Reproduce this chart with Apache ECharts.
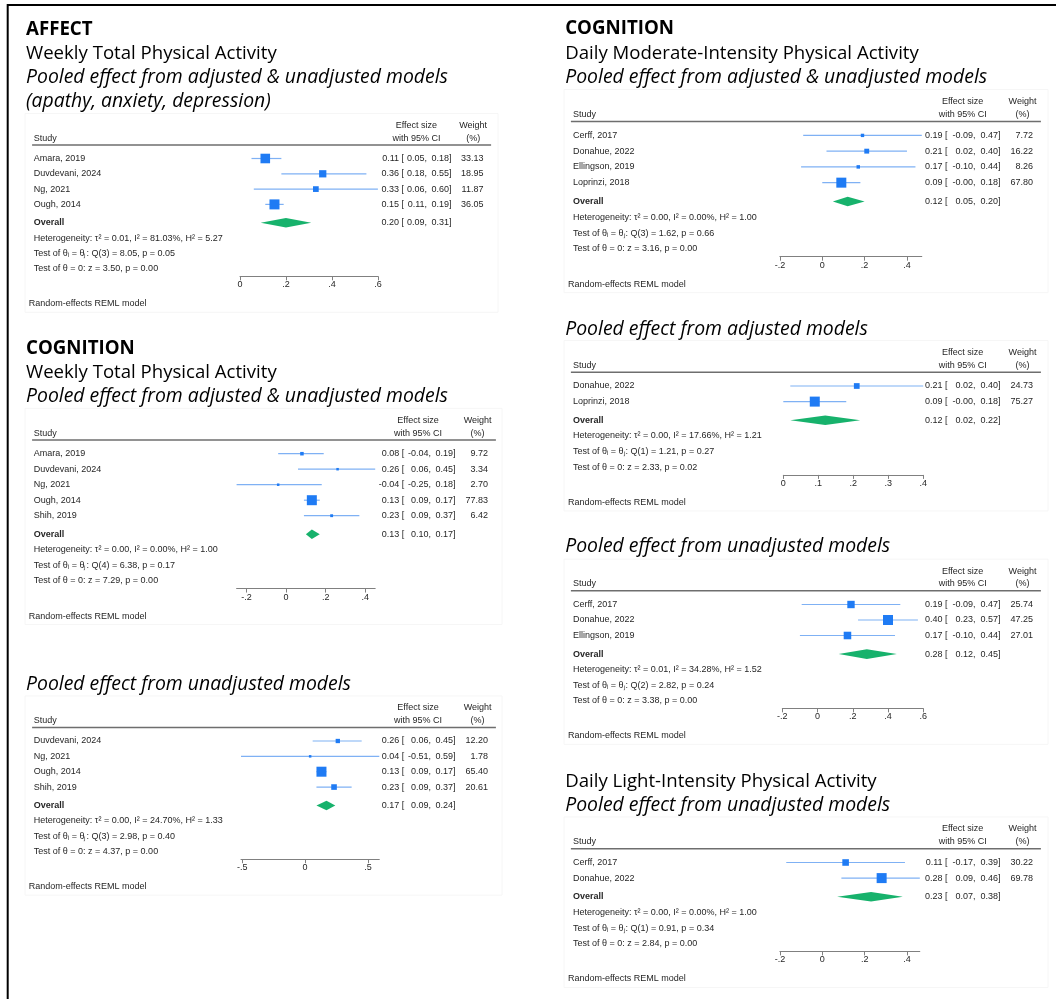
<!DOCTYPE html>
<html>
<head>
<meta charset="utf-8">
<title>Physical activity meta-analyses</title>
<script src="https://cdn.jsdelivr.net/npm/echarts@6/dist/echarts.min.js"></script>
<style>
  html, body { margin: 0; padding: 0; background: #fff; }
  #chart { width: 1056px; height: 999px; }
</style>
</head>
<body>
<div id="chart"></div>
<script>
// ---------------- data ----------------
// AFFECT - weekly total physical activity (adjusted & unadjusted)
const affectWeeklyStudies = ['Amara, 2019', 'Duvdevani, 2024', 'Ng, 2021', 'Ough, 2014'];
const affectWeeklyEst     = [0.11, 0.36, 0.33, 0.15];
const affectWeeklyLow     = [0.05, 0.18, 0.06, 0.11];
const affectWeeklyHigh    = [0.18, 0.55, 0.60, 0.19];
const affectWeeklyWeight  = [33.13, 18.95, 11.87, 36.05];
const affectWeeklyOverall = [0.20, 0.09, 0.31];               // estimate, lower, upper
const affectWeeklyStats   = ['τ² = 0.01, I² = 81.03%, H² = 5.27', 'Q(3) = 8.05, p = 0.05', 'z = 3.50, p = 0.00'];
const affectWeeklyTicks   = [0, 0.2, 0.4, 0.6];

// COGNITION - weekly total physical activity (adjusted & unadjusted)
const cogWeeklyAllStudies = ['Amara, 2019', 'Duvdevani, 2024', 'Ng, 2021', 'Ough, 2014', 'Shih, 2019'];
const cogWeeklyAllEst     = [0.08, 0.26, -0.04, 0.13, 0.23];
const cogWeeklyAllLow     = [-0.04, 0.06, -0.25, 0.09, 0.09];
const cogWeeklyAllHigh    = [0.19, 0.45, 0.18, 0.17, 0.37];
const cogWeeklyAllWeight  = [9.72, 3.34, 2.70, 77.83, 6.42];
const cogWeeklyAllOverall = [0.13, 0.10, 0.17];
const cogWeeklyAllStats   = ['τ² = 0.00, I² = 0.00%, H² = 1.00', 'Q(4) = 6.38, p = 0.17', 'z = 7.29, p = 0.00'];
const cogWeeklyAllTicks   = [-0.2, 0, 0.2, 0.4];

// COGNITION - weekly total physical activity (unadjusted)
const cogWeeklyUnadjStudies = ['Duvdevani, 2024', 'Ng, 2021', 'Ough, 2014', 'Shih, 2019'];
const cogWeeklyUnadjEst     = [0.26, 0.04, 0.13, 0.23];
const cogWeeklyUnadjLow     = [0.06, -0.51, 0.09, 0.09];
const cogWeeklyUnadjHigh    = [0.45, 0.59, 0.17, 0.37];
const cogWeeklyUnadjWeight  = [12.20, 1.78, 65.40, 20.61];
const cogWeeklyUnadjOverall = [0.17, 0.09, 0.24];
const cogWeeklyUnadjStats   = ['τ² = 0.00, I² = 24.70%, H² = 1.33', 'Q(3) = 2.98, p = 0.40', 'z = 4.37, p = 0.00'];
const cogWeeklyUnadjTicks   = [-0.5, 0, 0.5];

// COGNITION - daily moderate-intensity physical activity (adjusted & unadjusted)
const cogModAllStudies = ['Cerff, 2017', 'Donahue, 2022', 'Ellingson, 2019', 'Loprinzi, 2018'];
const cogModAllEst     = [0.19, 0.21, 0.17, 0.09];
const cogModAllLow     = [-0.09, 0.02, -0.10, -0.00];
const cogModAllHigh    = [0.47, 0.40, 0.44, 0.18];
const cogModAllWeight  = [7.72, 16.22, 8.26, 67.80];
const cogModAllOverall = [0.12, 0.05, 0.20];
const cogModAllStats   = ['τ² = 0.00, I² = 0.00%, H² = 1.00', 'Q(3) = 1.62, p = 0.66', 'z = 3.16, p = 0.00'];
const cogModAllTicks   = [-0.2, 0, 0.2, 0.4];

// COGNITION - daily moderate-intensity physical activity (adjusted)
const cogModAdjStudies = ['Donahue, 2022', 'Loprinzi, 2018'];
const cogModAdjEst     = [0.21, 0.09];
const cogModAdjLow     = [0.02, -0.00];
const cogModAdjHigh    = [0.40, 0.18];
const cogModAdjWeight  = [24.73, 75.27];
const cogModAdjOverall = [0.12, 0.02, 0.22];
const cogModAdjStats   = ['τ² = 0.00, I² = 17.66%, H² = 1.21', 'Q(1) = 1.21, p = 0.27', 'z = 2.33, p = 0.02'];
const cogModAdjTicks   = [0, 0.1, 0.2, 0.3, 0.4];

// COGNITION - daily moderate-intensity physical activity (unadjusted)
const cogModUnadjStudies = ['Cerff, 2017', 'Donahue, 2022', 'Ellingson, 2019'];
const cogModUnadjEst     = [0.19, 0.40, 0.17];
const cogModUnadjLow     = [-0.09, 0.23, -0.10];
const cogModUnadjHigh    = [0.47, 0.57, 0.44];
const cogModUnadjWeight  = [25.74, 47.25, 27.01];
const cogModUnadjOverall = [0.28, 0.12, 0.45];
const cogModUnadjStats   = ['τ² = 0.01, I² = 34.28%, H² = 1.52', 'Q(2) = 2.82, p = 0.24', 'z = 3.38, p = 0.00'];
const cogModUnadjTicks   = [-0.2, 0, 0.2, 0.4, 0.6];

// COGNITION - daily light-intensity physical activity (unadjusted)
const cogLightStudies = ['Cerff, 2017', 'Donahue, 2022'];
const cogLightEst     = [0.11, 0.28];
const cogLightLow     = [-0.17, 0.09];
const cogLightHigh    = [0.39, 0.46];
const cogLightWeight  = [30.22, 69.78];
const cogLightOverall = [0.23, 0.07, 0.38];
const cogLightStats   = ['τ² = 0.00, I² = 0.00%, H² = 1.00', 'Q(1) = 0.91, p = 0.34', 'z = 2.84, p = 0.00'];
const cogLightTicks   = [-0.2, 0, 0.2, 0.4];

// ---------------- styling ----------------
const TITLE_FONT = '"Open Sans", "Noto Sans", sans-serif';
const TITLE_SIZE = { b: 18.7, r: 18.6, i: 19.4 };   // bold heading, plain subtitle, italic model line
const STATA_FONT = '"Liberation Sans", Arial, Helvetica, sans-serif';
const TXT = '#262626';
const CI_COLOR = '#7fb1f4';
const MARK_COLOR = '#1f7bf4';
const DIAMOND_COLOR = '#17b26c';
const AXIS_COLOR = '#808080';

// column anchors for the left and right halves of the page
const leftCols  = { tx: 26, studyX: 33.8, noteX: 28.7, rule: [32.1, 495.9], bg: [25, 502],
                    est: 399.3, br: 401.8, lo: 431, hi: 455.6, w: 488.1, esC: 418, wC: 477.6 };
const leftCols1 = { tx: 26, studyX: 33.8, noteX: 28.7, rule: [32.1, 491.1], bg: [25, 498],
                    est: 399.0, br: 401.6, lo: 427, hi: 451.6, w: 483.4, esC: 416.4, wC: 473.2 };
const rightCols = { tx: 565.2, studyX: 572.9, noteX: 567.9, rule: [570.9, 1040.9], bg: [564, 1048],
                    est: 942.5, br: 945, lo: 975.5, hi: 1000.6, w: 1033, esC: 962.7, wC: 1022.5 };

const panels = [
  { studies: affectWeeklyStudies, est: affectWeeklyEst, lo: affectWeeklyLow, hi: affectWeeklyHigh,
    weight: affectWeeklyWeight, overall: affectWeeklyOverall, stats: affectWeeklyStats, ticks: affectWeeklyTicks,
    titles: [['AFFECT', 29.2, 'b'], ['Weekly Total Physical Activity', 53.3, 'r'],
             ['Pooled effect from adjusted & unadjusted models', 77.7, 'i'], ['(apathy, anxiety, depression)', 101.7, 'i']],
    cols: leftCols1, r0: 158.5, sp: 15.3, gx: [240, 377.9] },
  { studies: cogWeeklyAllStudies, est: cogWeeklyAllEst, lo: cogWeeklyAllLow, hi: cogWeeklyAllHigh,
    weight: cogWeeklyAllWeight, overall: cogWeeklyAllOverall, stats: cogWeeklyAllStats, ticks: cogWeeklyAllTicks,
    titles: [['COGNITION', 348.3, 'b'], ['Weekly Total Physical Activity', 372.3, 'r'],
             ['Pooled effect from adjusted & unadjusted models', 396.7, 'i']],
    cols: leftCols, r0: 453.7, sp: 15.5, gx: [236.6, 375.2] },
  { studies: cogWeeklyUnadjStudies, est: cogWeeklyUnadjEst, lo: cogWeeklyUnadjLow, hi: cogWeeklyUnadjHigh,
    weight: cogWeeklyUnadjWeight, overall: cogWeeklyUnadjOverall, stats: cogWeeklyUnadjStats, ticks: cogWeeklyUnadjTicks,
    titles: [['Pooled effect from unadjusted models', 684.3, 'i']],
    cols: leftCols, r0: 741, sp: 15.35, gx: [241, 379.3] },
  { studies: cogModAllStudies, est: cogModAllEst, lo: cogModAllLow, hi: cogModAllHigh,
    weight: cogModAllWeight, overall: cogModAllOverall, stats: cogModAllStats, ticks: cogModAllTicks,
    titles: [['COGNITION', 29.0, 'b'], ['Daily Moderate-Intensity Physical Activity', 53.3, 'r'],
             ['Pooled effect from adjusted & unadjusted models', 77.7, 'i']],
    cols: rightCols, r0: 135.4, sp: 15.75, gx: [779.9, 921.8] },
  { studies: cogModAdjStudies, est: cogModAdjEst, lo: cogModAdjLow, hi: cogModAdjHigh,
    weight: cogModAdjWeight, overall: cogModAdjOverall, stats: cogModAdjStats, ticks: cogModAdjTicks,
    titles: [['Pooled effect from adjusted models', 329.3, 'i']],
    cols: rightCols, r0: 386, sp: 15.6, gx: [783.3, 923.2] },
  { studies: cogModUnadjStudies, est: cogModUnadjEst, lo: cogModUnadjLow, hi: cogModUnadjHigh,
    weight: cogModUnadjWeight, overall: cogModUnadjOverall, stats: cogModUnadjStats, ticks: cogModUnadjTicks,
    titles: [['Pooled effect from unadjusted models', 546.7, 'i']],
    cols: rightCols, r0: 604.5, sp: 15.5, gx: [782.3, 923.2] },
  { studies: cogLightStudies, est: cogLightEst, lo: cogLightLow, hi: cogLightHigh,
    weight: cogLightWeight, overall: cogLightOverall, stats: cogLightStats, ticks: cogLightTicks,
    titles: [['Daily Light-Intensity Physical Activity', 781.7, 'r'], ['Pooled effect from unadjusted models', 805, 'i']],
    cols: rightCols, r0: 862.5, sp: 15.6, gx: [779.9, 919.8] }
];

// ---------------- helpers ----------------
const fmt2 = v => ((v < 0 || Object.is(v, -0)) ? '-' : '') + Math.abs(v).toFixed(2);
const tickFmt = v => v === 0 ? '0' : (v < 0 ? '-' : '') + String(Math.abs(v)).replace(/^0/, '');

function txt(x, y, text, align, opts) {
  opts = opts || {};
  return {
    type: 'text', x: x, y: y, silent: true, z: 10,
    style: {
      text: text,
      fill: opts.fill || TXT,
      fontSize: opts.size || 9,
      fontFamily: opts.family || STATA_FONT,
      fontWeight: opts.weight || 'normal',
      fontStyle: opts.style || 'normal',
      align: align, textAlign: align,
      verticalAlign: 'middle', textVerticalAlign: 'middle'
    }
  };
}

// ---------------- build ----------------
const grids = [], xAxes = [], yAxes = [], series = [], graphics = [];

// page frame (top and left rules)
graphics.push({ type: 'line', silent: true, z: 20, shape: { x1: 7, y1: 5, x2: 1056, y2: 5 }, style: { stroke: '#000', lineWidth: 2 } });
graphics.push({ type: 'line', silent: true, z: 20, shape: { x1: 7.7, y1: 4, x2: 7.7, y2: 999 }, style: { stroke: '#000', lineWidth: 2 } });

panels.forEach((p, g) => {
  const c = p.cols, n = p.studies.length;
  const yMin = -1, yMax = n + 3.7;           // row units: studies 0..n-1, overall n+0.2, axis n+3.7
  const rowY = v => p.r0 + v * p.sp;
  const axisY = rowY(yMax);
  const xMin = Math.min(p.ticks[0], ...p.lo, p.overall[1]);
  const xMax = Math.max(p.ticks[p.ticks.length - 1], ...p.hi, p.overall[2]);
  const wMax = Math.max(...p.weight);

  grids.push({ left: p.gx[0], top: rowY(yMin), width: p.gx[1] - p.gx[0], height: axisY - rowY(yMin),
               containLabel: false, outerBoundsMode: 'none', show: false });
  xAxes.push({
    gridIndex: g, type: 'value', min: xMin, max: xMax, position: 'bottom',
    axisLine: { show: true, onZero: false, lineStyle: { color: AXIS_COLOR, width: 1 } },
    axisTick: { show: true, customValues: p.ticks, length: 4, lineStyle: { color: AXIS_COLOR, width: 1 } },
    axisLabel: { customValues: p.ticks, formatter: tickFmt, margin: 4, fontSize: 9,
                 fontFamily: STATA_FONT, color: TXT, hideOverlap: false },
    splitLine: { show: false }
  });
  yAxes.push({ gridIndex: g, type: 'value', inverse: true, min: yMin, max: yMax, show: false });

  // confidence-interval bars
  series.push({
    type: 'custom', xAxisIndex: g, yAxisIndex: g, silent: true, z: 2,
    dimensions: ['low', 'high', 'row'], encode: { x: [0, 1], y: 2 },
    data: p.studies.map((s, i) => [p.lo[i], p.hi[i], i]),
    renderItem: (params, api) => {
      const a = api.coord([api.value(0), api.value(2)]);
      const b = api.coord([api.value(1), api.value(2)]);
      return { type: 'line', shape: { x1: a[0], y1: a[1], x2: b[0], y2: b[1] },
               style: { stroke: CI_COLOR, lineWidth: 1.2 } };
    }
  });
  // study estimates, square area proportional to weight
  series.push({
    type: 'scatter', xAxisIndex: g, yAxisIndex: g, silent: true, z: 3,
    symbol: 'rect',
    symbolSize: v => Math.max(2.5, 10 * Math.sqrt(v[2] / wMax)),
    itemStyle: { color: MARK_COLOR, opacity: 1 },
    data: p.studies.map((s, i) => [p.est[i], i, p.weight[i]])
  });
  // pooled estimate diamond
  series.push({
    type: 'custom', xAxisIndex: g, yAxisIndex: g, silent: true, z: 3,
    dimensions: ['low', 'est', 'high', 'row'], encode: { x: [0, 1, 2], y: 3 },
    data: [[p.overall[1], p.overall[0], p.overall[2], n + 0.2]],
    renderItem: (params, api) => {
      const y = api.value(3);
      const l = api.coord([api.value(0), y]);
      const m = api.coord([api.value(1), y]);
      const r = api.coord([api.value(2), y]);
      const h = 4.8;
      return { type: 'polygon',
               shape: { points: [[l[0], l[1]], [m[0], m[1] - h], [r[0], r[1]], [m[0], m[1] + h]] },
               style: { fill: DIAMOND_COLOR } };
    }
  });

  // faint plot-region frame
  graphics.push({ type: 'rect', silent: true, z: 0,
    shape: { x: c.bg[0], y: rowY(-2.15) - 12, width: c.bg[1] - c.bg[0], height: axisY + 36 - (rowY(-2.15) - 12) },
    style: { fill: '#fff', stroke: '#f6f6f6', lineWidth: 1 } });

  // headings
  p.titles.forEach(t => {
    graphics.push(txt(c.tx, t[1], t[0], 'left', {
      size: TITLE_SIZE[t[2]], family: TITLE_FONT, fill: '#000',
      weight: t[2] === 'b' ? 'bold' : 'normal', style: t[2] === 'i' ? 'italic' : 'normal' }));
  });

  // column headers and rule
  graphics.push(txt(c.studyX, rowY(-1.33), 'Study', 'left'));
  graphics.push(txt(c.esC, rowY(-2.15), 'Effect size', 'center'));
  graphics.push(txt(c.esC, rowY(-1.33), 'with 95% CI', 'center'));
  graphics.push(txt(c.wC, rowY(-2.15), 'Weight', 'center'));
  graphics.push(txt(c.wC, rowY(-1.33), '(%)', 'center'));
  graphics.push({ type: 'line', silent: true, z: 10,
    shape: { x1: c.rule[0], y1: rowY(-0.88), x2: c.rule[1], y2: rowY(-0.88) },
    style: { stroke: '#6e6e6e', lineWidth: 1.5 } });

  const ciText = (y, e, l, h) => {
    graphics.push(txt(c.est, y, fmt2(e), 'right'));
    graphics.push(txt(c.br, y, '[', 'left'));
    graphics.push(txt(c.lo, y, fmt2(l) + ',', 'right'));
    graphics.push(txt(c.hi, y, fmt2(h) + ']', 'right'));
  };

  p.studies.forEach((s, i) => {
    const y = rowY(i);
    graphics.push(txt(c.studyX, y, s, 'left'));
    ciText(y, p.est[i], p.lo[i], p.hi[i]);
    graphics.push(txt(c.w, y, p.weight[i].toFixed(2), 'right'));
  });

  const oy = rowY(n + 0.2);
  graphics.push(txt(c.studyX, oy, 'Overall', 'left', { weight: 'bold' }));
  ciText(oy, p.overall[0], p.overall[1], p.overall[2]);

  graphics.push(txt(c.studyX, rowY(n + 1.2), 'Heterogeneity: ' + p.stats[0], 'left'));
  graphics.push(txt(c.studyX, rowY(n + 2.2), 'Test of θᵢ = θⱼ: ' + p.stats[1], 'left'));
  graphics.push(txt(c.studyX, rowY(n + 3.2), 'Test of θ = 0: ' + p.stats[2], 'left'));
  graphics.push(txt(c.noteX, axisY + 27.5, 'Random-effects REML model', 'left'));
});

const chart = echarts.init(document.getElementById('chart'), null, { renderer: 'canvas' });
chart.setOption({
  backgroundColor: '#fff',
  animation: false,
  grid: grids,
  xAxis: xAxes,
  yAxis: yAxes,
  series: series,
  graphic: { elements: graphics }
});
</script>
</body>
</html>
